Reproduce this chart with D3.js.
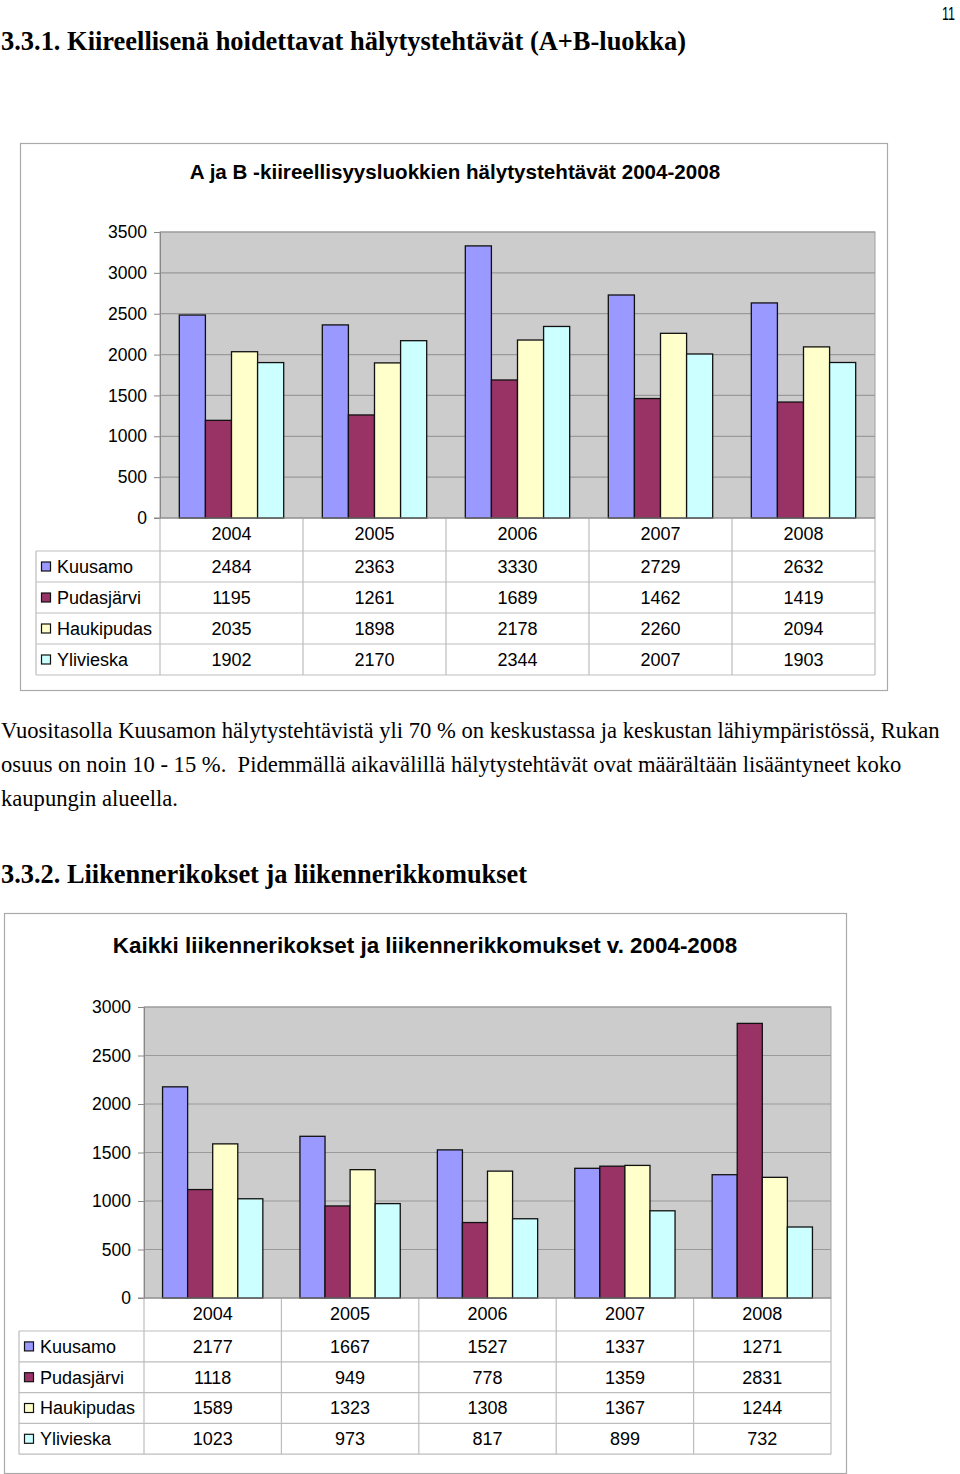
<!DOCTYPE html>
<html>
<head>
<meta charset="utf-8">
<script src="https://cdn.jsdelivr.net/npm/d3@7/dist/d3.min.js"></script>
<style>
  html, body { margin: 0; padding: 0; background: #fff; }
  svg { display: block; }
</style>
</head>
<body>
<svg id="page" width="960" height="1474"></svg>
<script>
// ---- Data ----
const years = ["2004", "2005", "2006", "2007", "2008"];
const seriesNames = ["Kuusamo", "Pudasjärvi", "Haukipudas", "Ylivieska"];
const seriesColors = ["#9999ff", "#993366", "#ffffcc", "#ccffff"];

// Chart 1: A ja B -kiireellisyysluokkien hälytystehtävät 2004-2008
const alarmKuusamo    = [2484, 2363, 3330, 2729, 2632];
const alarmPudasjarvi = [1195, 1261, 1689, 1462, 1419];
const alarmHaukipudas = [2035, 1898, 2178, 2260, 2094];
const alarmYlivieska  = [1902, 2170, 2344, 2007, 1903];
const alarmTicks = [0, 500, 1000, 1500, 2000, 2500, 3000, 3500];

// Chart 2: Kaikki liikennerikokset ja liikennerikkomukset v. 2004-2008
const trafficKuusamo    = [2177, 1667, 1527, 1337, 1271];
const trafficPudasjarvi = [1118, 949, 778, 1359, 2831];
const trafficHaukipudas = [1589, 1323, 1308, 1367, 1244];
const trafficYlivieska  = [1023, 973, 817, 899, 732];
const trafficTicks = [0, 500, 1000, 1500, 2000, 2500, 3000];

const heading1 = "3.3.1. Kiireellisenä hoidettavat hälytystehtävät (A+B-luokka)";
const heading2 = "3.3.2. Liikennerikokset ja liikennerikkomukset";
const chartTitle1 = "A ja B -kiireellisyysluokkien hälytystehtävät 2004-2008";
const chartTitle2 = "Kaikki liikennerikokset ja liikennerikkomukset v. 2004-2008";
const paragraph = [
  "Vuositasolla Kuusamon hälytystehtävistä yli 70 % on keskustassa ja keskustan lähiympäristössä, Rukan",
  "osuus on noin 10 - 15 %.  Pidemmällä aikavälillä hälytystehtävät ovat määrältään lisääntyneet koko",
  "kaupungin alueella."
];

const svg = d3.select("#page");
const SANS = "'Liberation Sans', Arial, sans-serif";
const SERIF = "'Liberation Serif', 'Times New Roman', serif";

// page number
svg.append("text").attr("x", 955).attr("y", 20).attr("text-anchor", "end")
  .attr("font-family", SANS).attr("font-size", 18).attr("textLength", 13)
  .attr("lengthAdjust", "spacingAndGlyphs").text("11");

// headings
svg.append("text").attr("x", 1).attr("y", 50)
  .attr("font-family", SERIF).attr("font-weight", "bold").attr("font-size", 27)
  .attr("textLength", 685).attr("lengthAdjust", "spacingAndGlyphs").text(heading1);
svg.append("text").attr("x", 1).attr("y", 883)
  .attr("font-family", SERIF).attr("font-weight", "bold").attr("font-size", 27)
  .attr("textLength", 526).attr("lengthAdjust", "spacingAndGlyphs").text(heading2);

// paragraph
svg.append("g").selectAll("text").data(paragraph).join("text")
  .attr("x", 1).attr("y", (d, i) => 738 + i * 34)
  .attr("font-family", SERIF).attr("font-size", 22.6)
  .attr("xml:space", "preserve").style("white-space", "pre")
  .text(d => d);

function drawChart(cfg) {
  const g = svg.append("g");
  const series = cfg.series;
  // outer frame
  g.append("rect").attr("x", cfg.frame[0] + 0.5).attr("y", cfg.frame[1] + 0.5)
    .attr("width", cfg.frame[2]).attr("height", cfg.frame[3])
    .attr("fill", "#fff").attr("stroke", "#aaaaaa").attr("stroke-width", 1.2);
  // title
  g.append("text").attr("x", cfg.titleX).attr("y", cfg.titleY).attr("text-anchor", "middle")
    .attr("font-family", SANS).attr("font-weight", "bold").attr("font-size", cfg.titleSize)
    .text(cfg.title);

  const x = d3.scaleBand().domain(years).range([cfg.x0, cfg.x1]);
  const xs = d3.scaleBand().domain(seriesNames).range([0, x.bandwidth()]).paddingOuter(0.74);
  const y = d3.scaleLinear().domain([0, cfg.ticks[cfg.ticks.length - 1]]).range([cfg.y0, cfg.yTop]);

  // plot area
  g.append("rect").attr("x", cfg.x0).attr("y", cfg.yTop).attr("width", cfg.x1 - cfg.x0)
    .attr("height", cfg.y0 - cfg.yTop).attr("fill", "#cccccc")
    .attr("stroke", "#a0a0a0").attr("stroke-width", 1);
  // gridlines
  g.append("g").selectAll("line").data(cfg.ticks.slice(1)).join("line")
    .attr("x1", cfg.x0).attr("x2", cfg.x1).attr("y1", d => y(d)).attr("y2", d => y(d))
    .attr("stroke", "#9a9a9a").attr("stroke-width", 1.2);

  // y axis
  const ax = g.append("g").attr("transform", `translate(${cfg.x0},0)`)
    .call(d3.axisLeft(y).tickValues(cfg.ticks).tickSize(6).tickPadding(7).tickFormat(d3.format("d")));
  ax.select(".domain").attr("stroke", "#888");
  ax.selectAll(".tick line").attr("stroke", "#888");
  ax.selectAll(".tick text").attr("font-family", SANS).attr("font-size", 17.5).attr("fill", "#000");

  // bars
  const groups = g.append("g").selectAll("g").data(years).join("g")
    .attr("transform", d => `translate(${x(d)},0)`);
  groups.selectAll("rect").data((yr, i) => series.map((s, k) => ({ name: seriesNames[k], v: s[i], c: seriesColors[k] })))
    .join("rect")
    .attr("x", d => xs(d.name)).attr("width", xs.bandwidth())
    .attr("y", d => y(d.v)).attr("height", d => cfg.y0 - y(d.v))
    .attr("fill", d => d.c).attr("stroke", "#111").attr("stroke-width", 1.3);

  // data table
  const rowH = cfg.rowH;
  const tTop = cfg.tableTop;  // top of first data row
  const tBottom = tTop + rowH * seriesNames.length;
  const lineColor = "#bdbdbd";
  const tg = g.append("g");
  for (let r = 0; r <= seriesNames.length; r++) {
    tg.append("line").attr("x1", cfg.tableLeft).attr("x2", cfg.x1)
      .attr("y1", tTop + r * rowH).attr("y2", tTop + r * rowH)
      .attr("stroke", lineColor).attr("stroke-width", 1.2);
  }
  tg.append("line").attr("x1", cfg.tableLeft).attr("x2", cfg.tableLeft)
    .attr("y1", tTop).attr("y2", tBottom).attr("stroke", lineColor).attr("stroke-width", 1.2);
  const vx = years.map(yr => x(yr)).concat([cfg.x1]);
  tg.selectAll(".vl").data(vx).join("line")
    .attr("x1", d => d).attr("x2", d => d).attr("y1", cfg.y0).attr("y2", tBottom)
    .attr("stroke", lineColor).attr("stroke-width", 1.2);
  g.append("line").attr("x1", cfg.x0 - 6).attr("x2", cfg.x1).attr("y1", cfg.y0).attr("y2", cfg.y0)
    .attr("stroke", "#888").attr("stroke-width", 1);

  // year header
  tg.selectAll(".yr").data(years).join("text")
    .attr("x", d => x(d) + x.bandwidth() / 2).attr("y", (cfg.y0 + tTop) / 2 - 1)
    .attr("dy", "0.35em").attr("text-anchor", "middle")
    .attr("font-family", SANS).attr("font-size", 18).text(d => d);

  seriesNames.forEach((name, k) => {
    const cy = tTop + rowH * k + rowH / 2;
    tg.append("rect").attr("x", cfg.tableLeft + 5.5).attr("y", cy - 4.5)
      .attr("width", 9).attr("height", 9).attr("fill", seriesColors[k])
      .attr("stroke", "#111").attr("stroke-width", 1.2);
    tg.append("text").attr("x", cfg.tableLeft + 21).attr("y", cy).attr("dy", "0.35em")
      .attr("font-family", SANS).attr("font-size", 18).text(name);
    tg.selectAll(null).data(series[k]).join("text")
      .attr("x", (d, i) => x(years[i]) + x.bandwidth() / 2).attr("y", cy).attr("dy", "0.35em")
      .attr("text-anchor", "middle").attr("font-family", SANS).attr("font-size", 18)
      .text(d => d);
  });
}

drawChart({
  frame: [20, 143, 867, 547],
  title: chartTitle1, titleX: 455, titleY: 179, titleSize: 20.6,
  x0: 160, x1: 875, yTop: 232, y0: 518,
  ticks: alarmTicks,
  series: [alarmKuusamo, alarmPudasjarvi, alarmHaukipudas, alarmYlivieska],
  tableLeft: 36, tableTop: 551, rowH: 31
});

drawChart({
  frame: [4, 913, 842, 560],
  title: chartTitle2, titleX: 425, titleY: 953, titleSize: 22.4,
  x0: 144, x1: 831, yTop: 1007, y0: 1298,
  ticks: trafficTicks,
  series: [trafficKuusamo, trafficPudasjarvi, trafficHaukipudas, trafficYlivieska],
  tableLeft: 19, tableTop: 1331, rowH: 30.8
});
</script>
</body>
</html>
